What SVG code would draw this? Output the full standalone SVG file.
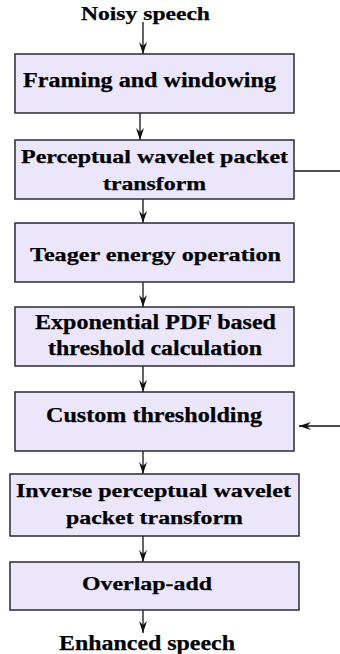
<svg xmlns="http://www.w3.org/2000/svg" width="340" height="654" viewBox="0 0 340 654">
<style>
.box{fill:#ECE6FD;stroke:#2a2a35;stroke-width:1.5}
.t{font-family:"Liberation Serif","Times New Roman",serif;font-weight:bold;fill:#000;stroke:#000;stroke-width:0.25}
.c{stroke:#111;stroke-width:1.3;fill:none}
</style>
<defs>
<marker id="ah" markerUnits="userSpaceOnUse" markerWidth="13" markerHeight="9" refX="12" refY="4" orient="auto">
<path d="M0,0 L12,4 L0,8 L4,4 Z" fill="#111"/>
</marker>
</defs>
<g id="connectors">
<line class="c" x1="143" y1="22" x2="143" y2="54" marker-end="url(#ah)"/>
<line class="c" x1="140" y1="113" x2="140" y2="140" marker-end="url(#ah)"/>
<line class="c" x1="143" y1="199" x2="143" y2="223" marker-end="url(#ah)"/>
<line class="c" x1="143" y1="282" x2="143" y2="307" marker-end="url(#ah)"/>
<line class="c" x1="143" y1="366" x2="143" y2="392" marker-end="url(#ah)"/>
<line class="c" x1="143" y1="451" x2="143" y2="474" marker-end="url(#ah)"/>
<line class="c" x1="143" y1="536" x2="143" y2="562" marker-end="url(#ah)"/>
<line class="c" x1="143" y1="610" x2="143" y2="633" marker-end="url(#ah)"/>
<line class="c" x1="294" y1="171" x2="340" y2="171"/>
<line class="c" x1="340" y1="426" x2="299" y2="426" marker-end="url(#ah)"/>
</g>
<g id="input"><text class="t" x="81" y="19.5" font-size="18.5" textLength="129" lengthAdjust="spacingAndGlyphs">Noisy speech</text></g>
<g id="framing">
<rect class="box" x="15" y="54" width="279" height="59"/>
<text class="t" x="23" y="87" font-size="20.5" textLength="253" lengthAdjust="spacingAndGlyphs">Framing and windowing</text>
</g>
<g id="pwpt">
<rect class="box" x="15" y="140" width="279" height="59"/>
<text class="t" x="21" y="163" font-size="19" textLength="267" lengthAdjust="spacingAndGlyphs">Perceptual wavelet packet</text>
<text class="t" x="103" y="190" font-size="19" textLength="103" lengthAdjust="spacingAndGlyphs">transform</text>
</g>
<g id="teager">
<rect class="box" x="15" y="223" width="279" height="59"/>
<text class="t" x="30" y="261" font-size="19.5" textLength="251" lengthAdjust="spacingAndGlyphs">Teager energy operation</text>
</g>
<g id="threshold">
<rect class="box" x="15" y="307" width="279" height="59"/>
<text class="t" x="35" y="329" font-size="20" textLength="241" lengthAdjust="spacingAndGlyphs">Exponential PDF based</text>
<text class="t" x="48" y="355" font-size="20" textLength="214" lengthAdjust="spacingAndGlyphs">threshold calculation</text>
</g>
<g id="custom">
<rect class="box" x="15" y="392" width="279" height="59"/>
<text class="t" x="46" y="421.5" font-size="20.5" textLength="216" lengthAdjust="spacingAndGlyphs">Custom thresholding</text>
</g>
<g id="ipwpt">
<rect class="box" x="10" y="474" width="289" height="62"/>
<text class="t" x="16" y="497" font-size="19.5" textLength="275" lengthAdjust="spacingAndGlyphs">Inverse perceptual wavelet</text>
<text class="t" x="66" y="524" font-size="19.5" textLength="177" lengthAdjust="spacingAndGlyphs">packet transform</text>
</g>
<g id="overlap">
<rect class="box" x="10" y="562" width="289" height="48"/>
<text class="t" x="82" y="590" font-size="19.5" textLength="130" lengthAdjust="spacingAndGlyphs">Overlap-add</text>
</g>
<g id="output"><text class="t" x="59" y="650" font-size="20.5" textLength="176" lengthAdjust="spacingAndGlyphs">Enhanced speech</text></g>
</svg>
